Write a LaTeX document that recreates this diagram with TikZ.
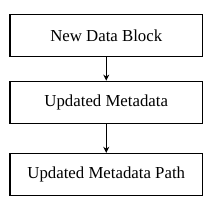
\documentclass[tikz,border=0pt]{standalone}
\usepackage{fontspec}
\setmainfont{Liberation Serif}
\usetikzlibrary{arrows.meta,positioning}
\tikzset{
  blk/.style={draw=black, line width=1.2pt, minimum width=192.5pt, minimum height=42pt,
              inner sep=0pt, align=center, font=\fontsize{16.8}{20}\selectfont},
  ar/.style={-{Stealth[length=6pt,width=6pt]}, draw=black, line width=1.2pt},
}
\begin{document}
\begin{tikzpicture}[x=1pt, y=1pt]
\useasboundingbox (0,0) rectangle (210,203);
\node[blk] (newblk) at (106.25,167.5) {New Data Block};
\node[blk, below=23.5pt of newblk] (meta) {Updated Metadata};
\node[blk, below=29pt of meta] (path) {Updated Metadata Path};

\draw[ar] (newblk) -- (meta);
\draw[ar] (meta) -- (path);
\end{tikzpicture}
\end{document}
